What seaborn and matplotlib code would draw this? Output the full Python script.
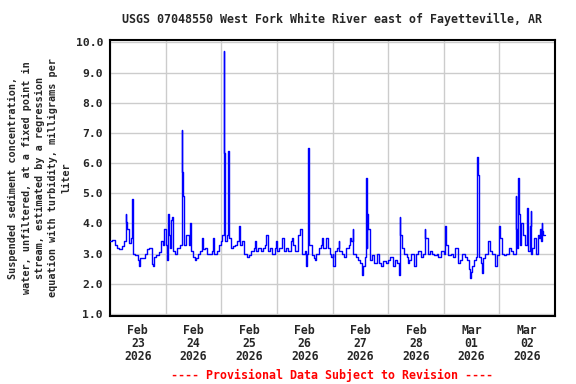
import numpy as np
import pandas as pd
import matplotlib
matplotlib.use("Agg")
import matplotlib.pyplot as plt
import seaborn as sns

# hourly base values (mg/L), one list per day, starting at 00:00
feb23 = [3.4, 3.45, 3.3, 3.2, 3.15, 3.25, 3.4, 3.5, 3.35, 3.5, 3.0, 2.95,
         2.8, 2.85, 2.85, 3.0, 3.15, 3.2, 2.65, 2.9, 2.95, 3.05, 3.2, 3.3]
feb24 = [3.3, 3.4, 3.2, 3.1, 3.0, 3.2, 3.3, 3.5, 3.3, 3.4, 3.3, 3.1,
         2.9, 2.85, 3.0, 3.1, 3.15, 3.2, 3.0, 3.0, 3.1, 3.0, 3.1, 3.3]
feb25 = [3.4, 3.3, 3.4, 3.3, 3.2, 3.25, 3.3, 3.4, 3.3, 3.2, 3.0, 2.9,
         2.95, 3.1, 3.2, 3.1, 3.2, 3.1, 3.2, 3.3, 3.1, 3.2, 3.0, 3.2]
feb26 = [3.1, 3.2, 3.3, 3.1, 3.2, 3.1, 3.4, 3.3, 3.1, 3.4, 3.2, 3.0,
         3.1, 3.0, 3.0, 2.95, 2.85, 3.0, 3.2, 3.3, 3.2, 3.1, 3.2, 3.0]
feb27 = [3.0, 3.1, 3.2, 3.1, 3.0, 2.9, 3.2, 3.3, 3.4, 3.0, 2.9, 2.8,
         2.7, 2.6, 2.9, 3.0, 2.8, 2.95, 2.7, 3.0, 2.7, 2.6, 2.75, 2.7]
feb28 = [2.8, 2.9, 2.6, 2.8, 2.7, 3.0, 3.2, 3.0, 2.9, 2.8, 3.0, 2.8,
         3.0, 3.1, 2.9, 3.0, 3.3, 3.0, 3.1, 3.0, 2.95, 3.0, 2.9, 3.1]
mar01 = [3.0, 3.0, 2.95, 3.0, 2.9, 3.0, 2.9, 2.8, 3.0, 2.9, 2.8, 2.5,
         2.6, 2.8, 2.9, 2.8, 2.7, 2.85, 3.0, 3.2, 3.1, 3.0, 2.9, 2.95]
mar02 = [3.3, 3.0, 2.95, 3.0, 3.2, 3.1, 3.0, 3.0, 3.3, 3.4, 3.6, 3.3,
         3.3, 3.5, 3.2, 3.4, 3.2, 3.5, 3.4, 3.6]

# short-lived 15-minute readings (hours after Feb 23 00:00, value)
spike_hours = [6.75, 7.0, 7.5, 9.5, 9.75, 12.5, 18.5, 22.0, 23.5,
               24.5, 25.0, 25.25, 26.5, 26.75, 31.0, 31.25, 31.5, 31.75, 33.0, 34.5, 36.75, 39.75, 44.5,
               48.25, 49.0, 49.25, 49.5, 50.5, 50.75, 51.0, 51.25, 55.5, 55.75, 57.0, 62.5, 67.5, 71.5,
               74.0, 78.5, 81.25, 82.0, 84.75, 85.5, 85.75, 86.0, 88.25, 91.5, 93.0, 95.5,
               96.25, 98.75, 103.5, 104.75, 108.75, 110.5, 110.75, 111.0, 111.25, 111.5,
               124.5, 125.0, 125.25, 128.5, 131.25, 135.75, 136.0, 141.5,
               144.75, 145.0, 149.0, 150.25, 155.5, 155.75, 158.5, 158.75, 159.0, 160.5, 163.0, 166.0,
               168.0, 168.25, 175.0, 175.25, 175.5, 176.25, 176.5, 177.0, 177.5, 178.5, 180.0, 180.25,
               181.0, 181.5, 181.75, 183.0, 184.0, 184.5, 185.5, 186.25, 186.5, 187.0, 187.5]
spike_values = [4.3, 4.05, 3.8, 4.8, 3.9, 2.6, 2.6, 3.4, 3.8,
                2.8, 4.3, 3.6, 4.1, 4.2, 7.1, 5.7, 4.9, 4.0, 3.6, 4.0, 2.8, 3.5, 3.5,
                3.6, 9.7, 6.35, 3.4, 3.6, 5.2, 6.4, 3.5, 3.8, 3.9, 3.4, 3.4, 3.6, 3.4,
                3.5, 3.5, 3.6, 3.8, 2.6, 6.5, 4.7, 3.3, 2.8, 3.5, 3.5, 2.9,
                2.6, 3.4, 3.5, 3.8, 2.3, 5.5, 3.2, 4.3, 4.05, 3.8,
                2.3, 4.2, 3.6, 2.7, 2.6, 3.8, 3.5, 2.9,
                3.9, 3.3, 3.2, 2.7, 2.2, 2.4, 6.2, 5.6, 2.9, 2.35, 3.4, 2.6,
                3.9, 3.5, 4.9, 3.8, 3.2, 5.5, 4.3, 3.3, 4.0, 3.6, 4.5, 3.1,
                3.9, 4.4, 3.0, 3.5, 3.0, 3.6, 3.8, 4.0, 3.75, 3.6, 3.6]

tick_labels = ["Feb\n23\n2026", "Feb\n24\n2026", "Feb\n25\n2026", "Feb\n26\n2026",
               "Feb\n27\n2026", "Feb\n28\n2026", "Mar\n01\n2026", "Mar\n02\n2026"]
y_ticks = [1.0, 2.0, 3.0, 4.0, 5.0, 6.0, 7.0, 8.0, 9.0, 10.0]

title = "USGS 07048550 West Fork White River east of Fayetteville, AR"
ylabel = ("Suspended sediment concentration,\n"
          "water, unfiltered, at a fixed point in\n"
          "stream, estimated by a regression\n"
          "equation with turbidity, milligrams per\n"
          "liter")
footer = "---- Provisional Data Subject to Revision ----"

sns.set_style("white")
plt.rcParams['font.family'] = ['DejaVu Sans Mono', 'DejaVu Sans']
plt.rcParams['font.weight'] = 'bold'

base_vals = feb23 + feb24 + feb25 + feb26 + feb27 + feb28 + mar01 + mar02
base = pd.Series(base_vals, index=np.arange(len(base_vals), dtype=float))
spk = pd.Series(spike_values, index=np.array(spike_hours, dtype=float))
s = pd.concat([base, spk])
s = s[~s.index.duplicated(keep='last')].sort_index()
start = pd.Timestamp("2026-02-23")
df = pd.DataFrame({"time": start + pd.to_timedelta(s.index, unit="h"),
                   "ssc": s.values})

fig = plt.figure(figsize=(5.76, 3.84), dpi=100)
ax = fig.add_axes([110 / 576, 1 - 316 / 384, 445 / 576, 276 / 384])
sns.lineplot(data=df, x="time", y="ssc", ax=ax, color="#0000ff", lw=1.0,
             drawstyle="steps-post", estimator=None, zorder=3)

midnights = pd.date_range("2026-02-23", "2026-03-03", freq="D")
noons = midnights[:-1] + pd.Timedelta(hours=12)
ax.set_xlim(midnights[0], midnights[-1])
ax.set_xticks(midnights)
ax.set_xticklabels([""] * len(midnights))
ax.set_xticks(noons, minor=True)
ax.set_xticklabels(tick_labels, minor=True, fontsize=8.3, fontweight='bold',
                   linespacing=1.0)
ax.set_ylim(0.93, 10.08)
ax.set_yticks(y_ticks)
ax.set_yticklabels([f"{v:.1f}" for v in y_ticks], fontsize=8.2, fontweight='bold')
ax.tick_params(axis='x', which='both', length=0, pad=6)
ax.tick_params(axis='y', length=0, pad=5)
ax.grid(True, which='major', color='#cccccc', lw=1.0, zorder=0)
ax.set_axisbelow(True)
for sp in ax.spines.values():
    sp.set_color('black')
    sp.set_linewidth(1.5)
ax.set_xlabel("")
ax.set_ylabel(ylabel, fontsize=7.3, fontweight='bold', linespacing=1.4, labelpad=3)

fig.text(332 / 576, 1 - 19 / 384, title, ha='center', va='center',
         fontsize=8.4, fontweight='bold')
fig.text(332 / 576, 1 - 375 / 384, footer, ha='center', va='center',
         fontsize=8.4, fontweight='bold', color='#ff0000')

fig.savefig("out.png", dpi=100)
